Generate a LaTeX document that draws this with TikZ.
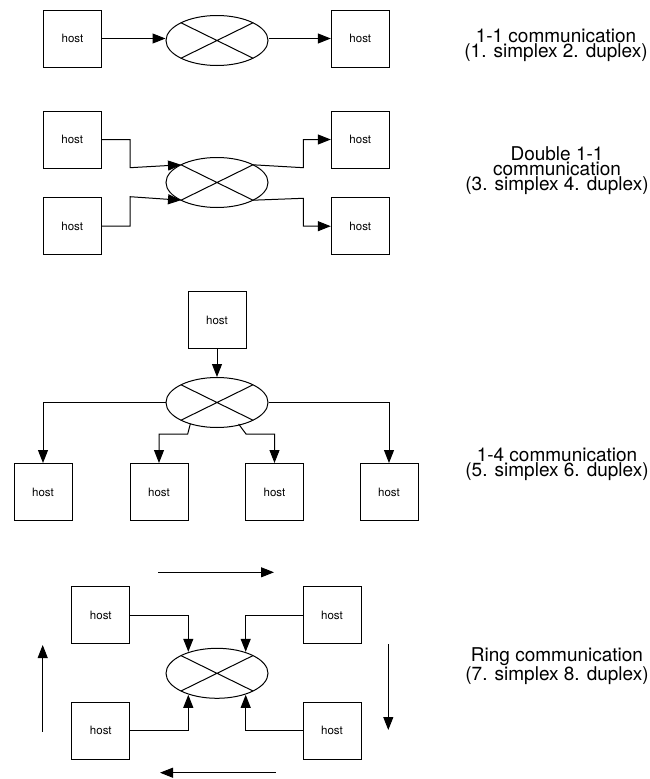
\documentclass[tikz,border=0pt]{standalone}
\usepackage{fontspec}
\setmainfont{TeX Gyre Heros}
\usetikzlibrary{shapes.geometric,arrows.meta,calc}

\tikzset{
  host/.style={draw, line width=1pt, minimum width=58, minimum height=57,
    inner sep=0pt, font=\fontsize{11.5}{13}\selectfont},
  switch/.style={draw, ellipse, line width=1pt, minimum width=102,
    minimum height=50, inner sep=0pt,
    path picture={
      \coordinate (pc) at (path picture bounding box.center);
      \draw[line width=1pt] ($(pc)+(-36,-17.7)$) -- ($(pc)+(36,17.7)$)
                            ($(pc)+(-36,17.7)$) -- ($(pc)+(36,-17.7)$);
    }},
  link/.style={line width=1pt, -{Triangle[length=13pt,width=10pt]}},
  wire/.style={line width=1pt},
  caption/.style={align=center, anchor=base, inner sep=0pt,
    font=\fontsize{19}{15}\selectfont},
}

\begin{document}
\begin{tikzpicture}[x=1pt, y=-1pt]
\useasboundingbox (0,0) rectangle (650,779);

% ---------- 1-1 communication ----------
\node[host] (h1a) at (72.5,38.5) {host};
\node[host] (h1b) at (360.3,38.5) {host};
\node[switch] (s1) at (217,40.5) {};
\draw[link] (h1a.east) -- (h1a.east -| s1.west);
\draw[link] (s1.east |- h1b.west) -- (h1b.west);
\node[caption] (c1) at (556,57.7) {1-1 communication\\(1. simplex 2. duplex)};

% ---------- Double 1-1 communication ----------
\node[host] (h2a) at (72.2,139.5) {host};
\node[host] (h2b) at (72.2,226.2) {host};
\node[host] (h2c) at (360.3,139.5) {host};
\node[host] (h2d) at (360.3,226.2) {host};
\node[switch] (s2) at (217,182.5) {};
\coordinate (s2nw) at ($(s2.center)+(-36,-17.7)$);
\coordinate (s2sw) at ($(s2.center)+(-36,17.7)$);
\coordinate (s2ne) at ($(s2.center)+(36,-17.7)$);
\coordinate (s2se) at ($(s2.center)+(36,17.7)$);
\coordinate (k2a) at (130,167.7);
\coordinate (k2b) at (130,196.7);
\coordinate (k2c) at (303.3,167.7);
\coordinate (k2d) at (303.3,198.3);
\draw[link] (h2a.east) -| (k2a) -- (s2nw);
\draw[link] (h2b.east) -| (k2b) -- (s2sw);
\draw[link] (s2ne) -- (k2c) |- (h2c.west);
\draw[link] (s2se) -- (k2d) |- (h2d.west);
\node[caption] (c2) at (557,190) {Double 1-1\\communication\\(3. simplex 4. duplex)};

% ---------- 1-4 communication ----------
\node[host] (h3) at (217,320.3) {host};
\node[switch] (s3) at (217,402.5) {};
\node[host] (h3a) at (43,492) {host};
\node[host] (h3b) at (159,492) {host};
\node[host] (h3c) at (274.5,492) {host};
\node[host] (h3d) at (389,492) {host};
\coordinate (s3l) at ($(s3.center)+(-26.7,21.5)$);
\coordinate (s3r) at ($(s3.center)+(21.6,21.5)$);
\coordinate (k3l) at (187.7,434);
\coordinate (k3r) at (246,434);
\draw[link] (h3.south) -- (s3.north);
\draw[link] (s3.west) -| (h3a.north);
\draw[link] (s3.east) -| (h3d.north);
\draw[link] (s3l) -- (k3l) -| (h3b.north);
\draw[link] (s3r) -- (k3r) -| (h3c.north);
\node[caption] (c3) at (557,476.7) {1-4 communication\\(5. simplex 6. duplex)};

% ---------- Ring communication ----------
\node[host] (h4a) at (100.8,615) {host};
\node[host] (h4b) at (332,615) {host};
\node[host] (h4c) at (100.8,730.5) {host};
\node[host] (h4d) at (332,730.5) {host};
\node[switch] (s4) at (217,673.3) {};
\coordinate (s4a) at ($(s4.center)+(-28.7,-21.5)$);
\coordinate (s4b) at ($(s4.center)+(28.7,-21.5)$);
\coordinate (s4c) at ($(s4.center)+(-28.7,21.5)$);
\coordinate (s4d) at ($(s4.center)+(28.7,21.5)$);
\draw[link] (h4a.east) -| (s4a);
\draw[link] (h4b.west) -| (s4b);
\draw[link] (h4c.east) -| (s4c);
\draw[link] (h4d.west) -| (s4d);
% direction of travel round the ring
\coordinate (rt1) at (158.3,572.3);
\coordinate (rt2) at (274,572.3);
\coordinate (rr1) at (388.3,644);
\coordinate (rr2) at (388.3,730);
\coordinate (rb1) at (275.7,772.7);
\coordinate (rb2) at (160,772.7);
\coordinate (rl1) at (42.7,731.7);
\coordinate (rl2) at (42.7,645);
\draw[link] (rt1) -- (rt2);
\draw[link] (rr1) -- (rr2);
\draw[link] (rb1) -- (rb2);
\draw[link] (rl1) -- (rl2);
\node[caption] (c4) at (557,680) {Ring communication\\(7. simplex 8. duplex)};
\end{tikzpicture}
\end{document}
